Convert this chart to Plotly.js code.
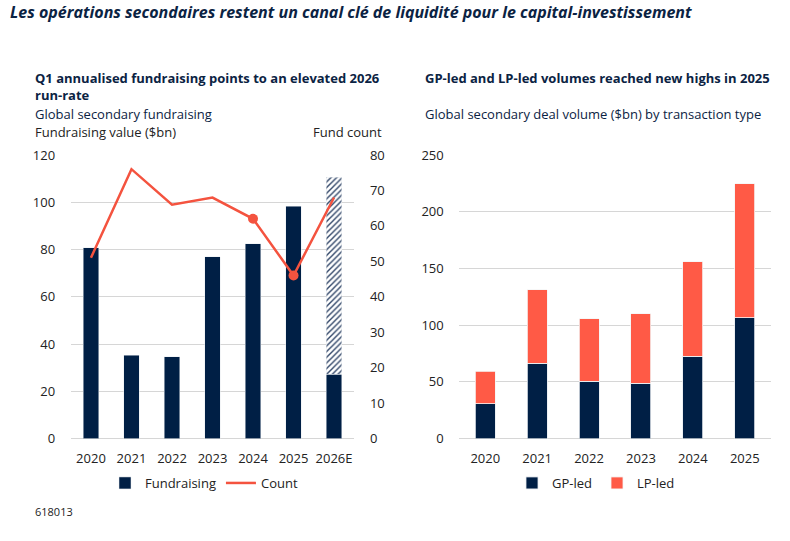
<!DOCTYPE html>
<html>
<head>
<meta charset="utf-8">
<script src="https://cdn.plot.ly/plotly-3.0.1.min.js"></script>
<style>html,body{margin:0;padding:0;background:#fff;}#chart{width:790px;height:541px;}</style>
</head>
<body>
<div id="chart"></div>
<script>
// ---- Data ----
const yearsLeft = ["2020", "2021", "2022", "2023", "2024", "2025", "2026E"];
const fundraising = [80.8, 35.3, 34.7, 77.0, 82.5, 98.3, 27.2];
const fundraisingProjected = [null, null, null, null, null, null, 83.4];
const fundCount = [51, 76, 66, 68, 62, 46, 68];

const yearsRight = ["2020", "2021", "2022", "2023", "2024", "2025"];
const gpLed = [30.8, 66.3, 50.7, 48.7, 72.7, 106.4];
const lpLed = [28.7, 65.0, 55.1, 61.5, 83.2, 118.4];

// ---- Styles ----
const NAVY = "#001f45";
const RED = "#ff5a46";
const LINE = "#f4533f";
const FONT = "Open Sans, Noto Sans, sans-serif";
const TXT = "#222";

const traces = [
  {type: "bar", x: yearsLeft, y: fundraising, name: "Fundraising", xaxis: "x", yaxis: "y",
   marker: {color: NAVY, line: {color: "#e8ecf0", width: 0.5}}, width: 0.39},
  {type: "bar", x: yearsLeft, y: fundraisingProjected, name: "Projected", xaxis: "x", yaxis: "y",
   showlegend: false, width: 0.39,
   marker: {color: "#ffffff", line: {color: "#e8ecf0", width: 0.5},
            pattern: {shape: "/", fgcolor: "#33486a", bgcolor: "#ffffff", size: 4, solidity: 0.35}}},
  {type: "scatter", mode: "lines", x: yearsLeft, y: fundCount, name: "Count", xaxis: "x", yaxis: "y2",
   line: {color: LINE, width: 2.5}},
  {type: "scatter", mode: "markers", x: [yearsLeft[4], yearsLeft[5]], y: [fundCount[4], fundCount[5]],
   xaxis: "x", yaxis: "y2", showlegend: false, marker: {color: LINE, size: 10}},
  {type: "bar", x: yearsRight, y: gpLed, name: "GP-led", xaxis: "x3", yaxis: "y3",
   marker: {color: NAVY, line: {color: "#e8ecf0", width: 0.8}}, width: 0.385, legend: "legend2"},
  {type: "bar", x: yearsRight, y: lpLed, name: "LP-led", xaxis: "x3", yaxis: "y3",
   marker: {color: RED, line: {color: "#f5f5f5", width: 0.8}}, width: 0.385, legend: "legend2"}
];

const gridC = "#d6d6d6";
const tickFont = {family: FONT, size: 13, color: TXT};

const layout = {
  width: 790, height: 541,
  margin: {l: 0, r: 0, t: 0, b: 0},
  paper_bgcolor: "#fff", plot_bgcolor: "#fff",
  barmode: "stack",
  font: {family: FONT, color: TXT},
  xaxis: {type: "category", domain: [70.7/790, 354.3/790], anchor: "y", tickfont: tickFont, showgrid: false,
          showline: false, ticks: "outside", ticklen: 8, tickcolor: "rgba(0,0,0,0)", tickangle: 0},
  yaxis: {domain: [1 - 438.5/541, 1 - 155/541], range: [0, 120], dtick: 20, tickfont: tickFont,
          gridcolor: gridC, gridwidth: 1, zeroline: true, zerolinecolor: gridC, zerolinewidth: 1,
          ticks: "outside", ticklen: 12, tickcolor: "rgba(0,0,0,0)", showline: false},
  yaxis2: {overlaying: "y", side: "right", anchor: "x", range: [0, 80], dtick: 10, tickfont: tickFont,
           showgrid: false, zeroline: false, ticks: "outside", ticklen: 12, tickcolor: "rgba(0,0,0,0)"},
  xaxis3: {type: "category", domain: [459.3/790, 770.7/790], anchor: "y3", tickfont: tickFont, showgrid: false,
           ticks: "outside", ticklen: 8, tickcolor: "rgba(0,0,0,0)", tickangle: 0},
  yaxis3: {domain: [1 - 438.5/541, 1 - 155/541], anchor: "x3", range: [0, 250], dtick: 50, tickfont: tickFont,
           gridcolor: gridC, zeroline: true, zerolinecolor: gridC,
           ticks: "outside", ticklen: 12, tickcolor: "rgba(0,0,0,0)"},
  legend: {orientation: "h", x: 204/790, xanchor: "center", y: 1 - 483/541, yanchor: "middle",
           font: {family: FONT, size: 13, color: TXT}, itemwidth: 30, traceorder: "normal", bgcolor: "rgba(0,0,0,0)"},
  legend2: {orientation: "h", x: 596/790, xanchor: "center", y: 1 - 483/541, yanchor: "middle",
            font: {family: FONT, size: 13, color: TXT}, itemwidth: 30, traceorder: "normal", bgcolor: "rgba(0,0,0,0)"},
  annotations: [
    {text: "<b><i>Les opérations secondaires restent un canal clé de liquidité pour le capital-investissement</i></b>",
     x: 8/790, y: 1 - 12/541, xref: "paper", yref: "paper", xanchor: "left", yanchor: "middle", showarrow: false,
     font: {family: FONT, size: 16, color: "#0b2343"}},
    {text: "<b>Q1 annualised fundraising points to an elevated 2026</b>",
     x: 33/790, y: 1 - 78/541, xref: "paper", yref: "paper", xanchor: "left", yanchor: "middle", showarrow: false,
     font: {family: FONT, size: 13, color: "#0b2343"}},
    {text: "<b>run-rate</b>",
     x: 33/790, y: 1 - 95/541, xref: "paper", yref: "paper", xanchor: "left", yanchor: "middle", showarrow: false,
     font: {family: FONT, size: 13, color: "#0b2343"}},
    {text: "Global secondary fundraising",
     x: 33/790, y: 1 - 114/541, xref: "paper", yref: "paper", xanchor: "left", yanchor: "middle", showarrow: false,
     font: {family: FONT, size: 13, color: "#0b2343"}},
    {text: "Fundraising value ($bn)",
     x: 33/790, y: 1 - 132/541, xref: "paper", yref: "paper", xanchor: "left", yanchor: "middle", showarrow: false,
     font: {family: FONT, size: 13, color: TXT}},
    {text: "Fund count",
     x: 384/790, y: 1 - 132/541, xref: "paper", yref: "paper", xanchor: "right", yanchor: "middle", showarrow: false,
     font: {family: FONT, size: 13, color: TXT}},
    {text: "<b>GP-led and LP-led volumes reached new highs in 2025</b>",
     x: 423/790, y: 1 - 78/541, xref: "paper", yref: "paper", xanchor: "left", yanchor: "middle", showarrow: false,
     font: {family: FONT, size: 13, color: "#0b2343"}},
    {text: "Global secondary deal volume ($bn) by transaction type",
     x: 423/790, y: 1 - 114/541, xref: "paper", yref: "paper", xanchor: "left", yanchor: "middle", showarrow: false,
     font: {family: FONT, size: 13, color: "#0b2343"}},
    {text: "618013",
     x: 33/790, y: 1 - 511/541, xref: "paper", yref: "paper", xanchor: "left", yanchor: "middle", showarrow: false,
     font: {family: FONT, size: 11, color: TXT}}
  ]
};

Plotly.newPlot("chart", traces, layout, {displayModeBar: false, staticPlot: true});
</script>
</body>
</html>
